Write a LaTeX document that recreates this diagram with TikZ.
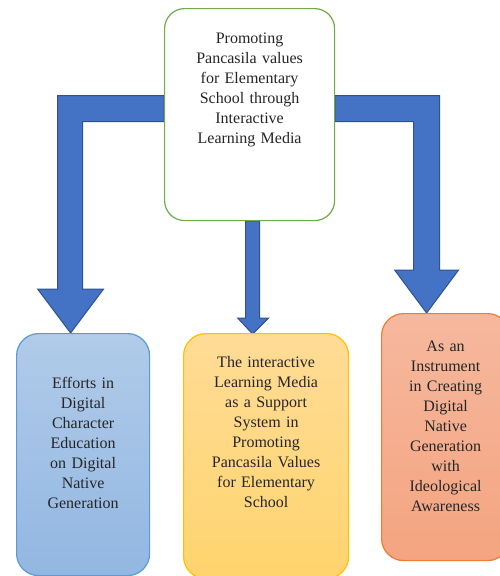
\documentclass[tikz,border=0pt]{standalone}
\usepackage{fontspec}
\setmainfont{Liberation Serif}
\usetikzlibrary{calc,backgrounds}
\definecolor{topgreen}{RGB}{112,173,71}
\definecolor{arrowblue}{RGB}{68,114,196}
\definecolor{arrowedge}{RGB}{47,82,143}
\definecolor{blueedge}{RGB}{91,155,213}
\definecolor{yellowedge}{RGB}{255,192,0}
\definecolor{orangeedge}{RGB}{237,125,49}

\begin{document}
\begin{tikzpicture}[x=1pt,y=-1pt,
		box/.style={rounded corners=22pt, line width=1.2pt, align=center, inner sep=3pt,
			anchor=north west, font=\fontsize{16}{20}\selectfont, text=black!85},
		blockarrow/.style={fill=arrowblue, draw=arrowedge, line width=1pt, line join=miter}]

		\useasboundingbox (0,0) rectangle (499,576);

		\node[box, draw=topgreen, fill=white, rounded corners=20pt, text width=164pt,
			text height=32pt, text depth=174pt] (top) at (164,8)
			{Promoting\\ Pancasila values\\ for Elementary\\ School through\\ Interactive\\ Learning Media};

		\node[box, draw=blueedge, top color={rgb,255:red,177;green,203;blue,233},
			bottom color={rgb,255:red,146;green,183;blue,226}, text width=127pt,
			text height=52pt, text depth=184pt] (blue) at (16,333)
			{Efforts in\\ Digital\\ Character\\ Education\\ on Digital\\ Native\\ Generation};

		\node[box, draw=yellowedge, top color={rgb,255:red,255;green,220;blue,150},
			bottom color={rgb,255:red,255;green,212;blue,110}, text width=159pt,
			text height=31pt, text depth=208pt] (yellow) at (183,333)
			{The interactive\\ Learning Media\\ as a Support\\ System in\\ Promoting\\ Pancasila Values\\ for Elementary\\ School};

		\node[box, draw=orangeedge, top color={rgb,255:red,246;green,184;blue,158},
			bottom color={rgb,255:red,244;green,164;blue,128}, text width=122pt,
			text height=35pt, text depth=206pt] (orange) at (381,313)
			{As an\\ Instrument\\ in Creating\\ Digital\\ Native\\ Generation\\ with\\ Ideological\\ Awareness};

		\begin{scope}[on background layer]
			\coordinate (ltip) at ($(blue.north)+(-12.5,0)$);
			\coordinate (mtip) at ($(yellow.north)+(-13.5,1)$);
			\coordinate (rtip) at ($(orange.north)+(-19,0)$);

			\draw[blockarrow] ($(top.west)+(0,-19)$) -| ($(ltip)+(-13,-44)$) -- ++(-20,0) -- (ltip)
				-- ++(33,-44) -- ++(-21,0) |- ($(top.west)+(0,7)$) -- cycle;
			\draw[blockarrow] ($(top.south)+(-4,0)$) -- ($(mtip)+(-7,-16)$) -- ++(-8,0) -- (mtip)
				-- ++(16,-16) -- ++(-9,0) -- ($(top.south)+(10,0)$) -- cycle;
			\draw[blockarrow] ($(top.east)+(0,-19)$) -| ($(rtip)+(13,-43)$) -- ++(19,0) -- (rtip)
				-- ++(-32,-43) -- ++(19,0) |- ($(top.east)+(0,7)$) -- cycle;
		\end{scope}

	\end{tikzpicture}
\end{document}
